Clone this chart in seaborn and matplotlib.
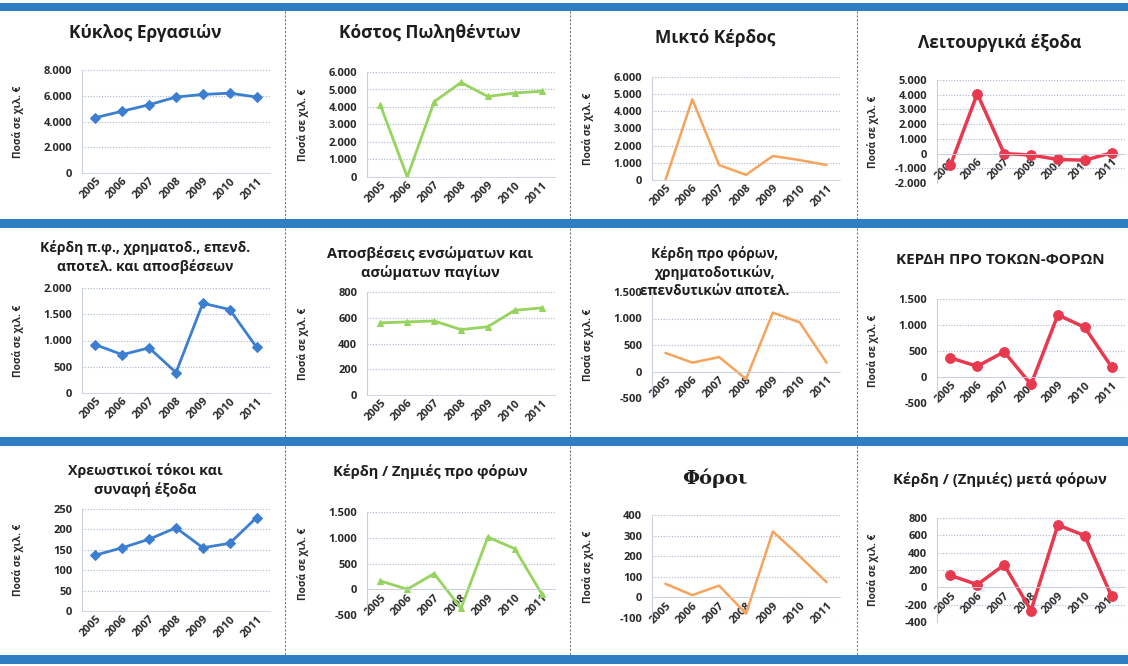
import matplotlib

matplotlib.use("Agg")
import matplotlib.pyplot as plt
import matplotlib.ticker as mticker
import pandas as pd
import seaborn as sns
from matplotlib.patches import Rectangle
from matplotlib.lines import Line2D

years = ["2005", "2006", "2007", "2008", "2009", "2010", "2011"]

kyklos_ergasion = [4300, 4800, 5300, 5900, 6100, 6200, 5900]
kostos_polithenton = [4100, 0, 4300, 5400, 4600, 4800, 4900]
mikto_kerdos = [0, 4700, 870, 300, 1400, 1160, 870]
leitourgika_exoda = [-800, 4070, 0, -100, -400, -450, 50]
kerdi_pro_apotel_apos = [920, 730, 860, 390, 1710, 1590, 870]
aposveseis = [560, 568, 575, 508, 530, 658, 676]
kerdi_pro_foron_xrim = [350, 167, 272, -142, 1111, 926, 167]
kerdi_pro_tokon_foron = [368, 206, 484, -142, 1194, 955, 194]
xreostikoi_tokoi = [137, 155, 176, 204, 155, 166, 229]
kerdi_zimies_pro_foron = [161, 0, 303, -370, 1013, 787, -84]
foroi = [66, 11, 57, -79, 320, 200, 74]
kerdi_zimies_meta_foron = [138, 31, 260, -268, 719, 597, -103]

titles = [
    "Κύκλος Εργασιών",
    "Κόστος Πωληθέντων",
    "Μικτό Κέρδος",
    "Λειτουργικά έξοδα",
    "Κέρδη π.φ., χρηματοδ., επενδ.\nαποτελ. και αποσβέσεων",
    "Αποσβέσεις ενσώματων και\nασώματων παγίων",
    "Κέρδη προ φόρων,\nχρηματοδοτικών,\nεπενδυτικών αποτελ.",
    "ΚΕΡΔΗ ΠΡΟ ΤΟΚΩΝ-ΦΟΡΩΝ",
    "Χρεωστικοί τόκοι και\nσυναφή έξοδα",
    "Κέρδη / Ζημιές προ φόρων",
    "Φόροι",
    "Κέρδη / (Ζημιές) μετά φόρων",
]
series = [
    kyklos_ergasion, kostos_polithenton, mikto_kerdos, leitourgika_exoda,
    kerdi_pro_apotel_apos, aposveseis, kerdi_pro_foron_xrim, kerdi_pro_tokon_foron,
    xreostikoi_tokoi, kerdi_zimies_pro_foron, foroi, kerdi_zimies_meta_foron,
]
# y range and tick step of each panel
y_ranges = [
    (0, 8000, 2000), (0, 6000, 1000), (0, 6000, 1000), (-2000, 5000, 1000),
    (0, 2000, 500), (0, 800, 200), (-500, 1500, 500), (-500, 1500, 500),
    (0, 250, 50), (-500, 1500, 500), (-100, 400, 100), (-400, 800, 200),
]
ylabel = "Ποσά σε χιλ. €"

W, H = 1128, 666
BLUE = "#3c7fd0"
GREEN = "#96d35f"
ORANGE = "#f6a35c"
RED = "#e8394f"
styles = {
    0: (BLUE, "D", 5, 2.0),
    1: (GREEN, "^", 5, 2.0),
    2: (ORANGE, None, 0, 1.8),
    3: (RED, "o", 7, 2.5),
}

# pixel layout: (plot top, plot bottom) for each panel, title centre y, title size
plot_tb = [
    (70, 173), (72, 177), (77, 180), (80, 183),
    (288, 393), (292, 395), (292, 398), (299, 403),
    (509, 611), (512, 615), (515, 618), (518, 622),
]
title_y = [33, 33, 38, 43, 257, 263, 272, 260, 480, 472, 478, 480]
title_size = [12.5, 12.5, 12.5, 12.5, 10, 10.5, 9.8, 11, 10.3, 10.5, 14, 10.6]
col_x0 = [0, 285, 570, 855]


def fmt_num(v, _pos=None):
    s = f"{abs(int(round(v))):,}".replace(",", ".")
    return "-" + s if v < 0 else s


def draw_panel(fig, i):
    col = i % 4
    x0 = col_x0[col]
    left, right = x0 + 82, x0 + 270
    top, bottom = plot_tb[i]
    ax = fig.add_axes([left / W, 1 - bottom / H, (right - left) / W, (bottom - top) / H])
    color, marker, msize, lw = styles[col]

    df = pd.DataFrame({"year": years, "value": series[i]})
    sns.lineplot(
        data=df, x="year", y="value", ax=ax, color=color, linewidth=lw,
        marker=marker, markersize=msize, markeredgecolor=color, sort=False,
    )
    lo, hi, step = y_ranges[i]
    ax.set_ylim(lo, hi)
    ax.set_xlim(-0.5, 6.5)
    ax.yaxis.set_major_locator(mticker.MultipleLocator(step))
    ax.yaxis.set_major_formatter(mticker.FuncFormatter(fmt_num))
    ax.grid(axis="y", linestyle=(0, (1, 1.5)), color="#a9b6cc", linewidth=0.8)
    ax.set_axisbelow(True)
    ax.set_xlabel("")
    ax.set_ylabel("")

    for s in ["top", "right"]:
        ax.spines[s].set_visible(False)
    ax.spines["left"].set_color("#c8d0de")
    ax.spines["left"].set_linewidth(0.8)
    ax.spines["bottom"].set_color("#c8d0de")
    ax.spines["bottom"].set_linewidth(0.6)
    if lo < 0:
        ax.spines["bottom"].set_position(("data", 0))

    ax.tick_params(axis="x", length=0, pad=2)
    ax.tick_params(axis="y", length=0, pad=7)
    for lab in ax.get_yticklabels():
        lab.set_fontsize(8)
        lab.set_fontweight("bold")
        lab.set_color("#2a2a2a")
    ax.set_xticks(range(len(years)))
    ax.set_xticklabels(years, rotation=45, ha="right", rotation_mode="anchor",
                       fontsize=8, fontweight="bold", color="#2a2a2a")

    cy = (top + bottom) / 2
    fig.text((x0 + 18) / W, 1 - cy / H, ylabel, rotation=90, ha="center",
             va="center", fontsize=7.3, fontweight="bold", color="#2a2a2a")

    tx = x0 + 145
    if i == 10:
        fig.text(tx / W, 1 - title_y[i] / H, titles[i], ha="center", va="center",
                 fontsize=title_size[i], fontweight="bold", family="DejaVu Serif",
                 color="#1e1e1e")
    else:
        fig.text(tx / W, 1 - title_y[i] / H, titles[i], ha="center", va="center",
                 fontsize=title_size[i], fontweight="bold", color="#1e1e1e",
                 linespacing=1.35)
    return ax


sns.set_style("white")
plt.rcParams["font.family"] = ["Open Sans", "DejaVu Sans"]

fig = plt.figure(figsize=(W / 100, H / 100), dpi=100)
fig.patch.set_facecolor("white")

# blue separator bands between rows
for y0, y1 in [(3, 11), (219, 228), (437, 446), (655, 664)]:
    fig.add_artist(Rectangle((0, 1 - y1 / H), 1, (y1 - y0) / H, transform=fig.transFigure,
                             facecolor="#2f7dc3", edgecolor="none"))
# dashed column dividers
for xd in [285, 570, 857]:
    for y0, y1 in [(11, 219), (228, 437), (446, 655)]:
        fig.add_artist(Line2D([xd / W, xd / W], [1 - y0 / H, 1 - y1 / H],
                              transform=fig.transFigure, color="#7a7a7a",
                              linewidth=0.8, linestyle=(0, (2, 1.5))))

for i in range(12):
    draw_panel(fig, i)

fig.savefig("out.png", dpi=100, facecolor="white")
